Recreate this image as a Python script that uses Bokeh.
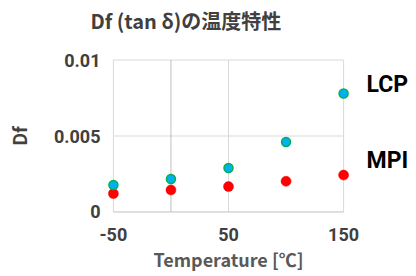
from bokeh.plotting import figure
from bokeh.models import Range1d, FixedTicker, LinearAxis
from bokeh.embed import file_html
from bokeh.resources import INLINE

# ---- data ----
temps = [-50, 0, 50, 100, 150]
lcp_df = [0.00178, 0.00217, 0.00289, 0.00460, 0.00780]
mpi_df = [0.00121, 0.00145, 0.00167, 0.00202, 0.00243]
x_ticks = [-50, 50, 150]
x_tick_labels = ["-50", "50", "150"]
y_ticks = [0, 0.005, 0.01]
y_tick_labels = ["0", "0.005", "0.01"]
series_names = ["LCP", "MPI"]
series_label_y = [0.0084, 0.0034]
title_text = "Df (tan δ)の温度特性"
title_anchor_x = [13]
x_title = "Temperature [℃]"
y_title = "Df"

CJK = "Noto Sans CJK JP"
LAT = "Roboto"

p = figure(width=416, height=276, output_backend="svg", toolbar_location=None,
           x_range=Range1d(-56, 156), y_range=Range1d(-0.0001, 0.0101),
           min_border_left=106, min_border_right=66, min_border_top=58, min_border_bottom=63)
p.outline_line_color = None
p.xgrid.visible = False
p.ygrid.visible = False
p.background_fill_color = "white"
p.border_fill_color = "white"

bottom_axis = p.below[0]
left_axis = p.left[0]
right_axis = LinearAxis()
p.add_layout(right_axis, "right")
top_axis = LinearAxis()
p.add_layout(top_axis, "above")

for ax, ticks, labels in ((bottom_axis, x_ticks, x_tick_labels),
                          (left_axis, y_ticks, y_tick_labels),
                          (right_axis, series_label_y, series_names),
                          (top_axis, title_anchor_x, [title_text])):
    ax.ticker = FixedTicker(ticks=ticks)
    ax.major_label_overrides = {t: l for t, l in zip(ticks, labels)}
    ax.axis_line_color = None
    ax.major_tick_line_color = None
    ax.minor_tick_line_color = None
    ax.major_tick_out = 0
    ax.major_tick_in = 0
    ax.major_label_text_font = LAT
    ax.major_label_text_font_style = "bold"
    ax.major_label_text_font_size = "18px"
    ax.major_label_text_color = "#404040"
    ax.axis_label_text_font = CJK
    ax.axis_label_text_font_style = "bold"
    ax.axis_label_text_color = "#595959"
    ax.axis_label_text_font_size = "18px"

# title (as label of a top axis)
top_axis.major_label_text_font = CJK
top_axis.major_label_text_font_size = "20px"
top_axis.major_label_standoff = 24

bottom_axis.major_label_standoff = 14
left_axis.major_label_standoff = 6
bottom_axis.axis_label = x_title
bottom_axis.axis_label_standoff = 2
left_axis.axis_label = y_title
left_axis.axis_label_standoff = 19
left_axis.axis_label_text_color = "#404040"
right_axis.major_label_standoff = 16
right_axis.major_label_text_font_size = "23px"
right_axis.major_label_text_color = "black"

# grid lines
xmin, xmax = x_ticks[0], x_ticks[-1]
ymin, ymax = y_ticks[0], y_ticks[-1]
p.segment(x0=x_ticks, y0=[ymin]*len(x_ticks), x1=x_ticks, y1=[ymax]*len(x_ticks),
          line_color="#d9d9d9", line_width=1)
p.segment(x0=[xmin]*2, y0=y_ticks[1:], x1=[xmax]*2, y1=y_ticks[1:],
          line_color="#d9d9d9", line_width=1)
p.segment(x0=[0], y0=[ymin], x1=[0], y1=[ymax], line_color="#bfbfbf", line_width=1)
p.segment(x0=[xmin], y0=[ymin], x1=[xmax], y1=[ymin], line_color="#bfbfbf", line_width=1)

# series
p.scatter(temps, mpi_df, size=10, fill_color="#ff0000", line_color="#ff0000", line_width=0.5)
p.scatter(temps, lcp_df, size=9, fill_color="#00b0f0", line_color="#00b050", line_width=1.5)

open("out.html", "w").write(file_html(p, INLINE))
